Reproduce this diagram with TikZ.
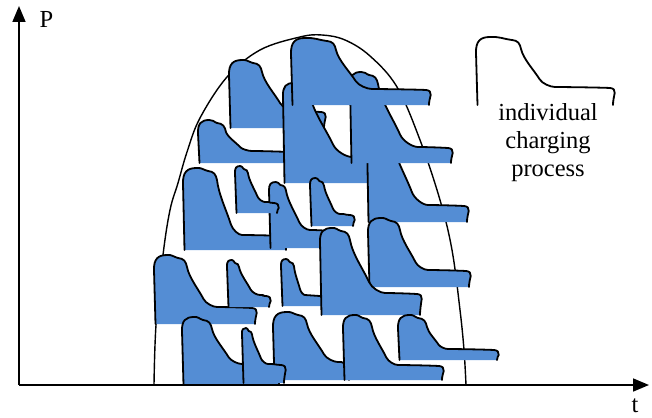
\documentclass[tikz,border=0pt]{standalone}
\usepackage{fontspec}
\setmainfont{Liberation Serif}
\usetikzlibrary{arrows.meta}
\definecolor{chgblue}{RGB}{84,141,212}
\tikzset{
  chgfill/.style={fill=chgblue},
  chgline/.style={draw=black, line width=1.8pt, line cap=round, line join=round},
  axisline/.style={line width=1.7pt, -{Triangle[length=16pt,width=13pt]}},
  envline/.style={line width=1.4pt},
  lbl/.style={font=\fontsize{24.5}{28}\selectfont, inner sep=0pt, anchor=base}
}
% #1 left x, #2 top y, #3 x where the top ends, #4 x where the descent meets the plateau,
% #5 plateau y, #6 right x, #7 bottom y   (pixel units, y downwards)
\newcommand\chgdef[7]{%
  \pgfmathsetmacro\chgRA{min(14,0.4*(#3-#1))}%
  \pgfmathsetmacro\chgRB{min(9,0.33*(#3-#1))}%
  \pgfmathsetmacro\chgD{#4-#3}%
  \pgfmathsetmacro\chgM{(#1+\chgRA+#3-\chgRB)/2}%
  \pgfmathsetmacro\chgPy{#2+3+\chgRB}%
  \pgfmathsetmacro\chgQx{#3+0.55*\chgD}%
  \pgfmathsetmacro\chgQy{#5-0.2*(#5-\chgPy)}%
  \pgfmathsetmacro\chgDx{\chgQx-#3}%
  \pgfmathsetmacro\chgDy{\chgQy-\chgPy}%
  \pgfmathsetmacro\chgBh{#5-\chgQy}%
  \pgfmathsetmacro\chgCx{\chgQx+0.55*\chgBh*\chgDx/\chgDy}%
  \pgfmathsetmacro\chgCy{\chgQy+0.55*\chgBh}%
  \def\chgp{({#1+1.5},{#7}) -- ({#1},{#2+\chgRA+2})
    .. controls ({#1-0.3},{#2+0.3*\chgRA}) and ({#1+0.3*\chgRA},{#2}) .. ({#1+\chgRA},{#2})
    .. controls (\chgM,{#2-0.3}) and (\chgM,{#2+1.5}) .. ({#3-\chgRB},{#2+3})
    .. controls ({#3-0.35*\chgRB},{#2+3.4}) and ({#3-0.12*\chgRB},{#2+3+0.4*\chgRB}) .. ({#3},\chgPy)
    .. controls ({#3+0.12*\chgDx},{\chgPy+0.33*\chgDy}) and ({#3+0.7*\chgDx},{\chgPy+0.7*\chgDy}) .. (\chgQx,\chgQy)
    .. controls (\chgCx,\chgCy) and ({#4-0.3*(#4-\chgQx)},{#5}) .. ({#4},{#5})
    .. controls ({#4+8},{#5}) and ({#6-12},{#5+0.5}) .. ({#6-4},{#5+1})
    .. controls ({#6-0.5},{#5+1.3}) and ({#6+1.2},{#5+3}) .. ({#6+0.7},{#5+6})
    .. controls ({#6+0.3},{#5+8}) and ({#6-1.2},{#7-3}) .. ({#6-1},{#7})}%
}
\newcommand\chg[7]{%
  \chgdef{#1}{#2}{#3}{#4}{#5}{#6}{#7}%
  \fill[chgfill] \chgp -- cycle;
  \draw[chgline] \chgp;
}
\begin{document}
\begin{tikzpicture}[x=1pt,y=-1pt]
\useasboundingbox (0,0) rectangle (652,417);
% envelope
\draw[envline] plot[smooth, tension=0.6] coordinates {(154,385) (156,325) (163,255) (170,210) (178,183) (187,152) (200,118) (227,77) (260,50) (300,37) (322,35) (345,40) (370,56) (397,87) (420,140) (440,200) (452,250) (460,310) (464,350) (466,385)};
% charging processes (back to front)
\chg{198}{120}{226}{252}{151}{292}{163}
\chg{229}{60}{262}{295}{111}{325}{128}
\chg{283}{83}{310}{352}{157}{375}{183}
\chg{367}{128}{392}{428}{205}{468}{222}
\chg{350}{72}{378}{418}{147}{452}{163}
\chg{291}{38}{336}{372}{89}{430}{105}
\chg{183}{168}{217}{242}{235}{287}{250}
\chg{269}{182}{286}{310}{230}{335}{248}
\chg{235}{166}{248}{265}{202}{278}{213}
\chg{310}{178}{324}{340}{214}{354}{226}
\chg{154}{255}{187}{217}{307}{256}{324}
\chg{227}{260}{239}{260}{295}{270}{307}
\chg{281}{259}{294}{305}{295}{324}{306}
\chg{368}{218}{400}{428}{270}{470}{287}
\chg{320}{228}{350}{385}{293}{421}{315}
\chg{182}{317}{212}{242}{364}{280}{385}
\chg{273}{312}{307}{338}{362}{350}{380}
\chg{242}{328}{252}{268}{364}{285}{383}
\chg{343}{315}{372}{398}{365}{443}{380}
\chg{398}{315}{427}{448}{349}{498}{360}
% legend shape
\chgdef{476}{37}{521}{555}{87}{614}{105}
\draw[chgline] \chgp;
\node[lbl] (l1) at (548,120.7) {individual};
\node[lbl] (l2) at (548,148) {charging};
\node[lbl] (l3) at (548,176.7) {process};
% axes
\coordinate (O) at (19,385);
\coordinate (ytip) at (19,6);
\coordinate (xtip) at (649,385);
\draw[axisline] (O) -- (ytip);
\draw[axisline] (O) -- (xtip);
\node[lbl] (P) at (46.5,28) {P};
\node[lbl] (t) at (635,412) {t};
\end{tikzpicture}
\end{document}
